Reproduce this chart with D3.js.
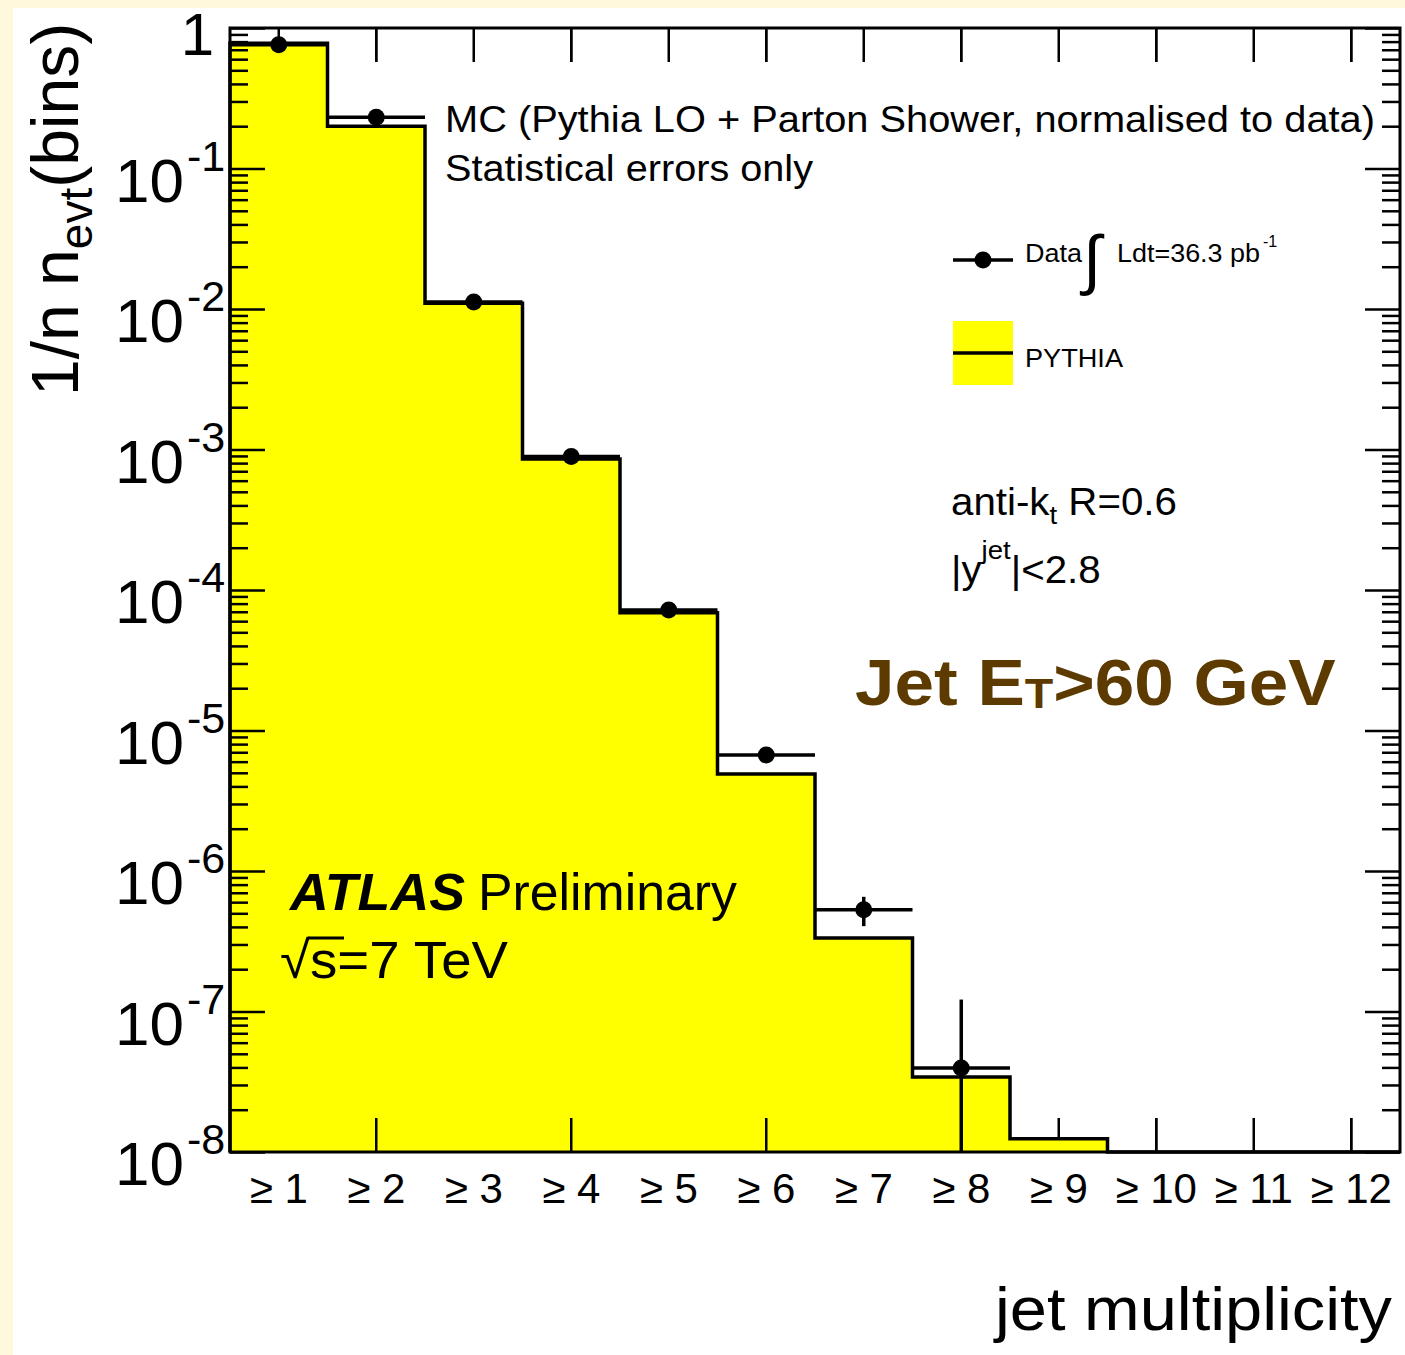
<!DOCTYPE html>
<html>
<head>
<meta charset="utf-8">
<script src="https://cdn.jsdelivr.net/npm/d3@7"></script>
<style>
  html, body { margin: 0; padding: 0; background: #FFF8DC; }
  svg { display: block; }
  text { font-family: "Liberation Sans", Arial, sans-serif; fill: #000; }
</style>
</head>
<body>
<svg id="chart" width="1405" height="1355"></svg>
<script>
// Jet multiplicity categories (inclusive)
const categories = ["≥ 1", "≥ 2", "≥ 3", "≥ 4", "≥ 5", "≥ 6", "≥ 7", "≥ 8", "≥ 9", "≥ 10", "≥ 11", "≥ 12"];

// Data: normalised fraction of events per bin and statistical errors
const dataValues = [0.76, 0.232, 0.0112, 8.9e-4, 7.2e-5, 6.7e-6, 5.3e-7, 3.96e-8];
const dataErrors = [0.002, 0.001, 5e-5, 8e-6, 1.5e-6, 4e-7, 1.25e-7, 8.2e-8];

// PYTHIA prediction (normalised to data)
const mcValues = [0.78, 0.20, 0.011, 8.55e-4, 6.9e-5, 4.9e-6, 3.34e-7, 3.42e-8, 1.24e-8, 0, 0, 0];

// Y axis decades
const yMajorTicks = [1e-8, 1e-7, 1e-6, 1e-5, 1e-4, 1e-3, 1e-2, 1e-1, 1];
const yMajorExponents = [-8, -7, -6, -5, -4, -3, -2, -1, 0];

const svg = d3.select("#chart");

// white drawing area on the cream page
svg.append("rect").attr("x", 13).attr("y", 8).attr("width", 1392).attr("height", 1347).attr("fill", "#fff");

const frame = { left: 230, right: 1400, top: 28, bottom: 1152 };

const x = d3.scaleBand().domain(categories).range([frame.left, frame.right]).padding(0);
const y = d3.scaleLog().domain([1e-8, 1]).range([frame.bottom, frame.top]);
const yClamp = v => (v <= 1e-8 ? frame.bottom : y(v));

const plot = svg.append("g");

// x ticks at bin centres, pointing inwards from top and bottom edges
function xTicksCentered(g, values) {
  const top = g.append("g").attr("transform", `translate(0,${frame.top})`)
    .call(d3.axisBottom(x).tickValues(values).tickSize(34).tickFormat(""));
  top.select(".domain").remove();
  top.selectAll("line").attr("stroke", "#000").attr("stroke-width", 2.5);
  const bot = g.append("g").attr("transform", `translate(0,${frame.bottom})`)
    .call(d3.axisTop(x).tickValues(values).tickSize(34).tickFormat(""));
  bot.select(".domain").remove();
  bot.selectAll("line").attr("stroke", "#000").attr("stroke-width", 2.5);
}
// all ticks first, underneath the filled histogram
xTicksCentered(plot, categories);

// PYTHIA histogram: filled step outline
const stepPts = [[frame.left, frame.bottom]];
categories.forEach((c, i) => {
  const yy = yClamp(mcValues[i]);
  stepPts.push([x(c), yy]);
  stepPts.push([x(c) + x.bandwidth(), yy]);
});
stepPts.push([frame.right, frame.bottom]);
const line = d3.line();
plot.append("path")
  .attr("d", line(stepPts) + "Z")
  .attr("fill", "#FFFF00")
  .attr("stroke", "none");
plot.append("path")
  .attr("d", line(stepPts))
  .attr("fill", "none")
  .attr("stroke", "#000")
  .attr("stroke-width", 3.5)
  .attr("stroke-linejoin", "miter");

// Data points with error bars
const dataG = plot.append("g");
dataValues.forEach((v, i) => {
  const c = categories[i];
  const cx = x(c) + x.bandwidth() / 2;
  const cy = y(v);
  dataG.append("line").attr("x1", x(c)).attr("x2", x(c) + x.bandwidth()).attr("y1", cy).attr("y2", cy)
    .attr("stroke", "#000").attr("stroke-width", 3.5);
  const lo = v - dataErrors[i];
  dataG.append("line").attr("x1", cx).attr("x2", cx)
    .attr("y1", y(v + dataErrors[i])).attr("y2", yClamp(lo))
    .attr("stroke", "#000").attr("stroke-width", 3.5);
  dataG.append("circle").attr("cx", cx).attr("cy", cy).attr("r", 8.5).attr("fill", "#000");
});

// frame
plot.append("rect")
  .attr("x", frame.left).attr("y", frame.top)
  .attr("width", frame.right - frame.left).attr("height", frame.bottom - frame.top)
  .attr("fill", "none").attr("stroke", "#000").attr("stroke-width", 3);

// x ticks redrawn on top at every second bin
xTicksCentered(plot, categories.filter((c, i) => i % 2 === 1));

// y ticks, both sides, major and minor
const allYTicks = y.ticks();
const isMajor = d => Math.abs(Math.log10(d) - Math.round(Math.log10(d))) < 1e-9;
const yMinor = allYTicks.filter(d => !isMajor(d));
function yAxisSide(xPos, axisFn) {
  const gMaj = plot.append("g").attr("transform", `translate(${xPos},0)`)
    .call(axisFn(y).tickValues(yMajorTicks).tickSize(35).tickFormat(""));
  gMaj.select(".domain").remove();
  gMaj.selectAll("line").attr("stroke", "#000").attr("stroke-width", 2.5);
  const gMin = plot.append("g").attr("transform", `translate(${xPos},0)`)
    .call(axisFn(y).tickValues(yMinor).tickSize(18).tickFormat(""));
  gMin.select(".domain").remove();
  gMin.selectAll("line").attr("stroke", "#000").attr("stroke-width", 2.5);
}
yAxisSide(frame.left, d3.axisRight);
yAxisSide(frame.right, d3.axisLeft);

// y tick labels
const yLab = svg.append("g");
yMajorTicks.forEach((t, i) => {
  const e = yMajorExponents[i];
  if (e === 0) {
    yLab.append("text").attr("x", 214).attr("y", 55).attr("text-anchor", "end")
      .attr("font-size", 60).text("1");
  } else {
    yLab.append("text").attr("x", 184).attr("y", y(t) + 33).attr("text-anchor", "end")
      .attr("font-size", 62).text("10");
    yLab.append("text").attr("x", 187).attr("y", y(t) + 2).attr("text-anchor", "start")
      .attr("font-size", 43).text("-" + Math.abs(e));
  }
});

// x tick labels
svg.append("g").selectAll("text").data(categories).join("text")
  .attr("x", d => x(d) + x.bandwidth() / 2)
  .attr("y", 1203)
  .attr("text-anchor", "middle")
  .attr("font-size", 42)
  .text(d => d);

// axis titles
svg.append("text").attr("x", 1392).attr("y", 1330).attr("text-anchor", "end")
  .attr("font-size", 62).attr("textLength", 397).attr("lengthAdjust", "spacingAndGlyphs")
  .text("jet multiplicity");

const yt = svg.append("text").attr("transform", "translate(78,396) rotate(-90)").attr("font-size", 66);
yt.append("tspan").text("1/n n");
yt.append("tspan").attr("font-size", 46).attr("dy", 14).text("evt");
yt.append("tspan").attr("dy", -14).text("(bins)");

// annotations
svg.append("text").attr("x", 445).attr("y", 132).attr("font-size", 37)
  .attr("textLength", 930).attr("lengthAdjust", "spacingAndGlyphs")
  .text("MC (Pythia LO + Parton Shower, normalised to data)");
svg.append("text").attr("x", 445).attr("y", 181).attr("font-size", 37)
  .attr("textLength", 368).attr("lengthAdjust", "spacingAndGlyphs")
  .text("Statistical errors only");

// legend
const leg = svg.append("g");
leg.append("line").attr("x1", 953).attr("x2", 1013).attr("y1", 260).attr("y2", 260)
  .attr("stroke", "#000").attr("stroke-width", 3.5);
leg.append("circle").attr("cx", 983).attr("cy", 260).attr("r", 8.5).attr("fill", "#000");
leg.append("text").attr("x", 1025).attr("y", 262).attr("font-size", 26).attr("fill", "#222")
  .attr("textLength", 57).attr("lengthAdjust", "spacingAndGlyphs").text("Data");
leg.append("text").attr("x", 1083).attr("y", 282).attr("font-size", 66)
  .attr("font-family", "DejaVu Sans").attr("font-weight", 300).attr("fill", "#222").text("∫");
leg.append("text").attr("x", 1117).attr("y", 262).attr("font-size", 26).attr("fill", "#222")
  .attr("textLength", 143).attr("lengthAdjust", "spacingAndGlyphs").text("Ldt=36.3 pb");
leg.append("text").attr("x", 1263).attr("y", 247).attr("font-size", 16).attr("fill", "#222").text("-1");

leg.append("rect").attr("x", 953).attr("y", 321).attr("width", 60).attr("height", 64).attr("fill", "#FFFF00");
leg.append("line").attr("x1", 953).attr("x2", 1013).attr("y1", 353).attr("y2", 353)
  .attr("stroke", "#000").attr("stroke-width", 3.5);
leg.append("text").attr("x", 1025).attr("y", 367).attr("font-size", 26).attr("fill", "#222")
  .attr("textLength", 98).attr("lengthAdjust", "spacingAndGlyphs").text("PYTHIA");

// jet selection
const sel = svg.append("g").attr("transform", "translate(951,0) scale(1.06,1)");
const t1 = sel.append("text").attr("x", 0).attr("y", 515).attr("font-size", 38).attr("fill", "#222");
t1.append("tspan").text("anti-k");
t1.append("tspan").attr("font-size", 26).attr("dy", 9).text("t");
t1.append("tspan").attr("dy", -9).text(" R=0.6");
const t2 = sel.append("text").attr("x", 0).attr("y", 583).attr("font-size", 38).attr("fill", "#222");
t2.append("tspan").text("|y");
t2.append("tspan").attr("font-size", 26).attr("dy", -24).text("jet");
t2.append("tspan").attr("dy", 24).text("|<2.8");

// cut label
const cut = svg.append("g").attr("transform", "translate(855,705) scale(1.11,1)")
  .append("text").attr("x", 0).attr("y", 0)
  .attr("font-family", "Lato, sans-serif").attr("font-weight", 900).attr("font-size", 64)
  .style("fill", "#5C3A00");
cut.append("tspan").text("Jet E");
cut.append("tspan").attr("font-size", 42).attr("dy", 3).text("T");
cut.append("tspan").attr("dy", -3).text(">60 GeV");

// experiment label
svg.append("text").attr("x", 290).attr("y", 910).attr("font-size", 52)
  .attr("font-weight", "bold").attr("font-style", "italic")
  .attr("textLength", 175).attr("lengthAdjust", "spacingAndGlyphs").text("ATLAS");
svg.append("text").attr("x", 478).attr("y", 910).attr("font-size", 52)
  .attr("textLength", 259).attr("lengthAdjust", "spacingAndGlyphs").text("Preliminary");
svg.append("text").attr("x", 280).attr("y", 978).attr("font-size", 52)
  .attr("textLength", 228).attr("lengthAdjust", "spacingAndGlyphs").text("√s=7 TeV");
svg.append("line").attr("x1", 308).attr("x2", 344).attr("y1", 938).attr("y2", 938)
  .attr("stroke", "#000").attr("stroke-width", 3);
</script>
</body>
</html>
